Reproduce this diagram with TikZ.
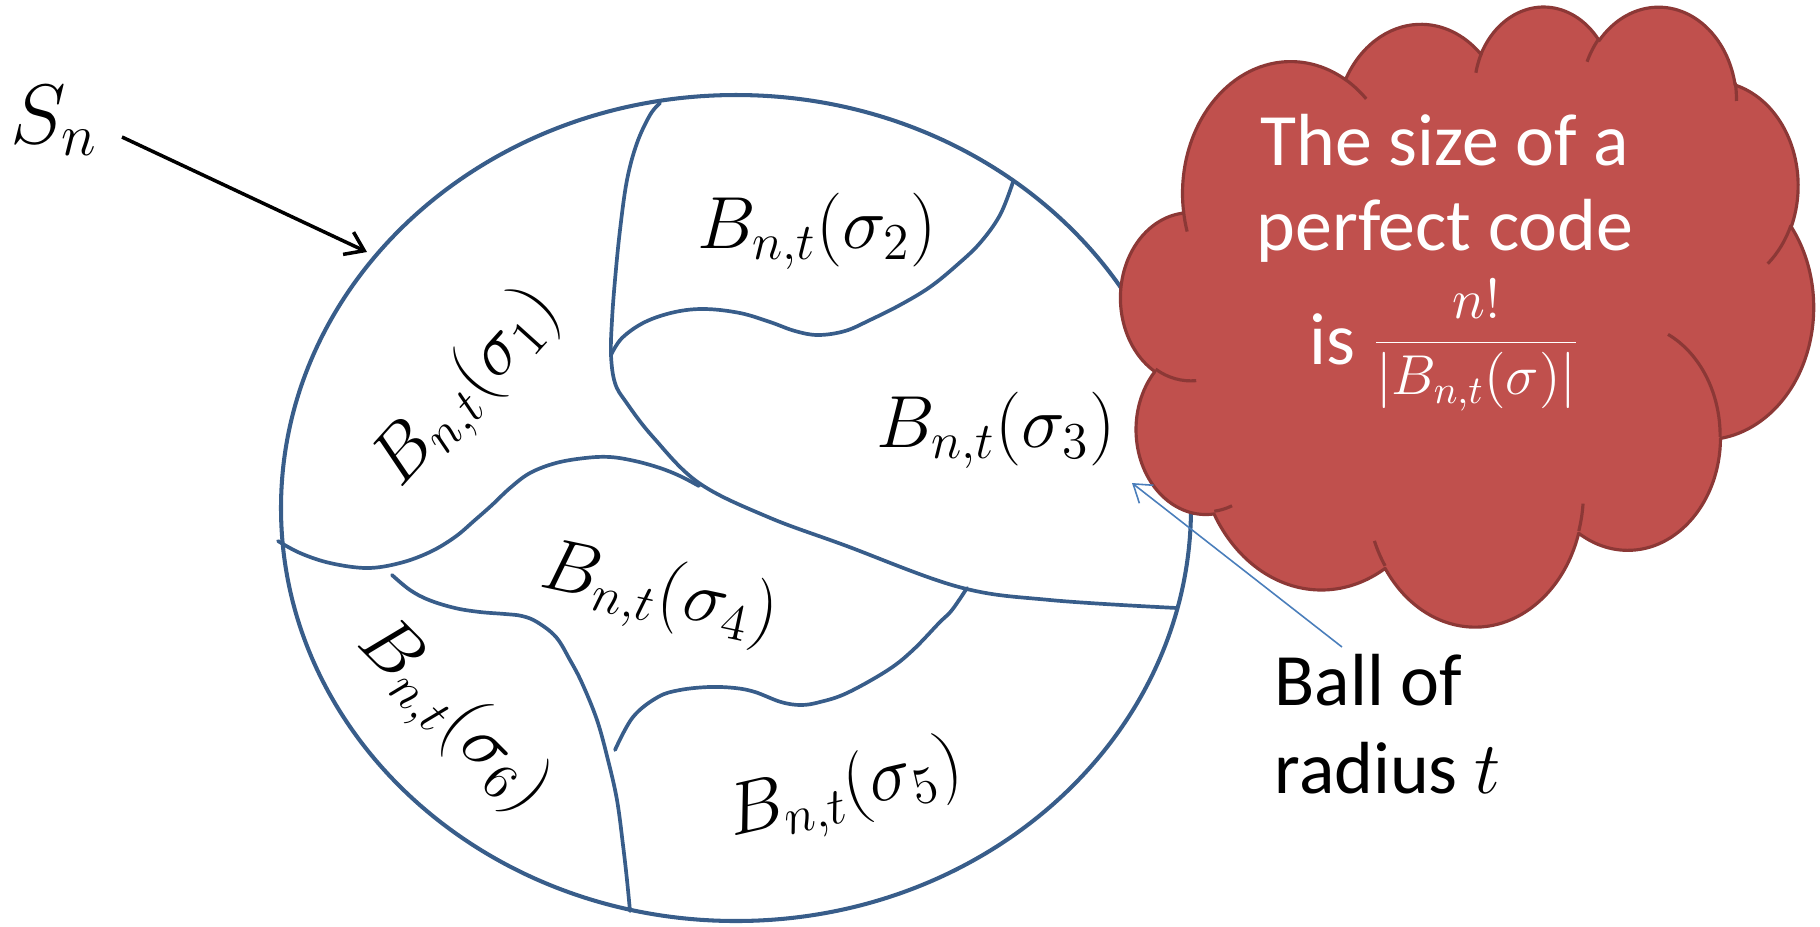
\documentclass[tikz,border=0pt]{standalone}
\usepackage{fix-cm}
\usepackage{fontspec}
\setmainfont{Carlito}
\usetikzlibrary{arrows.meta}
\definecolor{lineblue}{HTML}{385D8A}
\definecolor{cloudfill}{HTML}{C0504D}
\definecolor{clouddraw}{HTML}{8C3836}
\definecolor{arrowblue}{HTML}{4A7EBB}
\tikzset{
  region/.style={draw=lineblue, line width=1.05pt, line cap=round, line join=round},
  ballname/.style={inner sep=0pt, font=\fontsize{21}{25}\selectfont},
  cloudtxt/.style={inner sep=0pt, text=white, font=\fontsize{21}{25}\selectfont},
  plaintxt/.style={inner sep=0pt, font=\fontsize{21}{25}\selectfont},
  snarrow/.style={draw=black, line width=1pt, -{Straight Barb[length=5pt,width=7pt]}},
  ballarrow/.style={draw=arrowblue, line width=0.45pt, -{Straight Barb[length=4.8pt,width=6.5pt]}},
  cloudshape/.style={fill=cloudfill, draw=clouddraw, line width=0.9pt, line join=round},
  cloudinner/.style={draw=clouddraw, line width=0.9pt},
  carc/.style n args={4}{insert path={arc[x radius=#1, y radius=#2,
     start angle={atan2((#1)*sin(#3),(#2)*cos(#3))},
     delta angle={mod(atan2((#1)*sin((#3)+(#4)),(#2)*cos((#3)+(#4)))-atan2((#1)*sin(#3),(#2)*cos(#3))+720,360)}]}}
}
\begin{document}
\begin{tikzpicture}[x=0.01cm, y=-0.01cm]
\useasboundingbox (0,0) rectangle (1820,926);

% the set S_n
\draw[region, line width=1.15pt] (736,508) ellipse [x radius=455, y radius=413];

% boundaries between the balls
\draw[region] plot[smooth, tension=0.6] coordinates {(660,103) (650,115) (637,143) (627,180) (620,230) (615,280) (612,320) (611,355) (615,383) (626,402) (653,437) (699,483) (768,517) (844,545) (959,587) (1050,600) (1177,608)};
\draw[region] plot[smooth, tension=0.6] coordinates {(611,355) (622,338) (645,322) (675,312) (705,309) (740,313) (770,322) (795,331) (818,335) (845,331) (870,320) (900,305) (930,287) (957,265) (980,243) (1000,215) (1013,182)};
\draw[region] plot[smooth, tension=0.6] coordinates {(278,541) (300,553) (330,563) (367,568) (400,563) (430,552) (455,537) (475,520) (492,505) (510,488) (530,473) (556,463) (585,458) (610,457) (635,461) (660,468) (680,476) (699,486)};
\draw[region] plot[smooth, tension=0.6] coordinates {(392,575) (410,590) (429,600) (455,608) (480,612) (505,614) (522,616) (537,622) (556,637) (570,660) (582,683) (597,720) (608,760) (617,800) (623,845) (627,880) (630,911)};
\draw[region] plot[smooth, tension=0.6] coordinates {(967,588) (952,610) (939,623) (913,650) (888,670) (847,693) (820,702) (801,705) (781,702) (755,692) (735,688) (709,687) (680,690) (658,697) (633,717) (615,750)};

% labels of the balls
\node[ballname, rotate=48] (b1) at (468,389) {$B_{n,t}(\sigma_1)$};
\node[ballname, anchor=base] (b2) at (817,248) {$B_{n,t}(\sigma_2)$};
\node[ballname, anchor=base] (b3) at (996,447) {$B_{n,t}(\sigma_3)$};
\node[ballname, rotate=-12] (b4) at (659,595) {$B_{n,t}(\sigma_4)$};
\node[ballname, rotate=13] (b5) at (845,793) {$B_{n,t}(\sigma_5)$};
\node[ballname, rotate=-45] (b6) at (452,717) {$B_{n,t}(\sigma_6)$};

% S_n label and arrow
\node[inner sep=0pt, anchor=base west, font=\fontsize{24}{28}\selectfont] (sn) at (10,143) {$S_n$};
\coordinate (snStart) at (122,137);
\coordinate (snTip) at (367,252);
\draw[snarrow] (snStart) -- (snTip);

% cloud (Office cloud geometry, path space 4320 x 4320)
\begin{scope}[shift={(1121,5)}, x=0.0016088cm, y=-0.0014398cm]
\path[cloudshape] (390,1437)
  [carc={675.3}{919.0}{-190.4875}{123.7805}]
  [carc={533.3}{726.7}{-144.1024}{89.9452}]
  [carc={436.5}{594.5}{-145.8079}{99.7230}]
  [carc={485.7}{659.5}{-130.9861}{117.2417}]
  [carc={533.3}{727.3}{-78.7089}{109.0269}]
  [carc={677.5}{922.0}{-46.2673}{130.2690}]
  [carc={578.5}{786.7}{0.6250}{114.0333}]
  [carc={675.2}{921.5}{22.4516}{115.1726}]
  [carc={772.0}{1054.3}{66.2426}{75.7110}]
  [carc={436.0}{591.8}{-274.9421}{146.7356}]
  [carc={434.5}{594.5}{-246.8285}{152.5189}] -- cycle;
\path[cloudinner]
  (469.3,2617.7) [carc={434.5}{594.5}{86.7420}{26.4295}]
  (692.8,3489.9) [carc={436.0}{591.8}{73.6105}{11.4475}]
  (1647.8,3909.0) [carc={675.2}{921.5}{137.6242}{14.0811}]
  (2882.7,3475.1) [carc={675.2}{921.5}{6.4533}{15.9984}]
  (3412.9,2295.4) [carc={578.5}{786.7}{-70.2924}{70.9174}]
  (4179.8,1535.4) [carc={533.3}{727.3}{30.3180}{27.7515}]
  (3832.4,542.6) [carc={485.7}{659.5}{-13.7443}{14.8589}]
  (2907.8,395.2) [carc={485.7}{659.5}{-149.1815}{18.1954}]
  (2214.1,472.0) [carc={436.5}{594.5}{-163.4943}{17.6864}]
  (1400.0,519.2) [carc={675.3}{919.0}{-66.7070}{12.3194}]
  (412.7,1578.9) [carc={675.3}{919.0}{157.6544}{11.8582}];
\end{scope}

% text in the cloud
\node[cloudtxt, anchor=base] (c1) at (1445,165) {The size of a};
\node[cloudtxt, anchor=base] (c2) at (1445,250) {perfect code};
\node[cloudtxt, anchor=base] (c3) at (1445,364) {is \raisebox{2.2pt}{\fontsize{16}{19}\selectfont$\displaystyle\frac{n!}{|B_{n,t}(\sigma)|}$}};

% ball of radius t
\node[plaintxt, anchor=base west] (ball1) at (1274,705) {Ball of};
\node[plaintxt, anchor=base west] (ball2) at (1274,793) {radius $t$};
\coordinate (ballTail) at (1342,647);
\coordinate (ballTip) at (1132,483);
\draw[ballarrow] (ballTail) -- (ballTip);
\end{tikzpicture}
\end{document}
